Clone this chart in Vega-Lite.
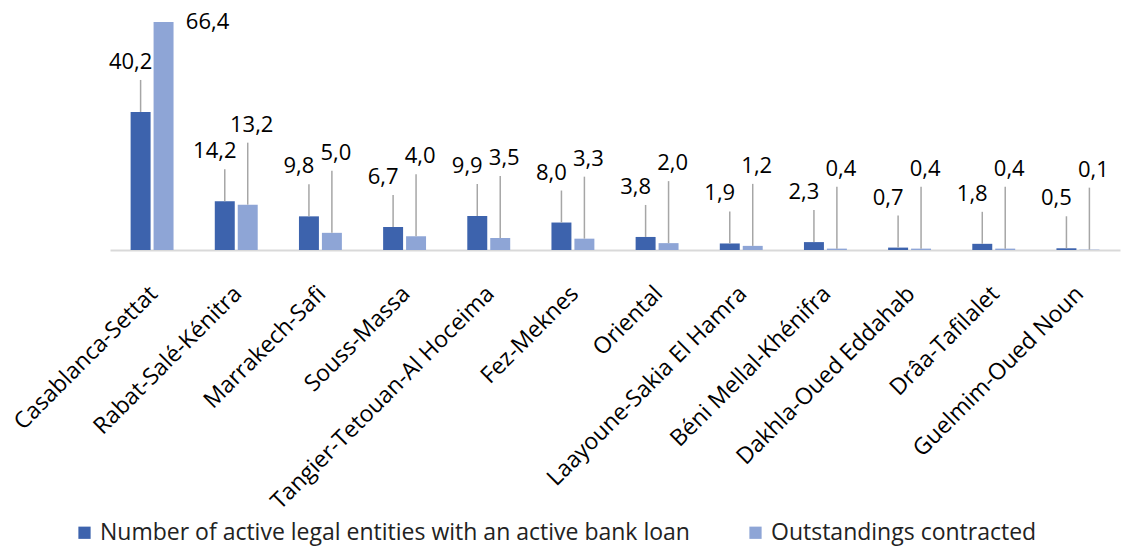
{
  "$schema": "https://vega.github.io/schema/vega-lite/v6.json",
  "autosize": {"type": "none"},
  "padding": {"left": 110, "top": 22, "right": 4, "bottom": 297},
  "width": 1010,
  "height": 228,
  "config": {
    "font": "Open Sans",
    "view": {"stroke": null},
    "locale": {"number": {"decimal": ",", "thousands": ".", "grouping": [3], "currency": ["", " €"]}}
  },
  "data": {
    "values": [
      {"region": "Casablanca-Settat", "series": "Number of active legal entities with an active bank loan", "value": 40.2},
      {"region": "Casablanca-Settat", "series": "Outstandings contracted", "value": 66.4},
      {"region": "Rabat-Salé-Kénitra", "series": "Number of active legal entities with an active bank loan", "value": 14.2},
      {"region": "Rabat-Salé-Kénitra", "series": "Outstandings contracted", "value": 13.2},
      {"region": "Marrakech-Safi", "series": "Number of active legal entities with an active bank loan", "value": 9.8},
      {"region": "Marrakech-Safi", "series": "Outstandings contracted", "value": 5.0},
      {"region": "Souss-Massa", "series": "Number of active legal entities with an active bank loan", "value": 6.7},
      {"region": "Souss-Massa", "series": "Outstandings contracted", "value": 4.0},
      {"region": "Tangier-Tetouan-Al Hoceima", "series": "Number of active legal entities with an active bank loan", "value": 9.9},
      {"region": "Tangier-Tetouan-Al Hoceima", "series": "Outstandings contracted", "value": 3.5},
      {"region": "Fez-Meknes", "series": "Number of active legal entities with an active bank loan", "value": 8.0},
      {"region": "Fez-Meknes", "series": "Outstandings contracted", "value": 3.3},
      {"region": "Oriental", "series": "Number of active legal entities with an active bank loan", "value": 3.8},
      {"region": "Oriental", "series": "Outstandings contracted", "value": 2.0},
      {"region": "Laayoune-Sakia El Hamra", "series": "Number of active legal entities with an active bank loan", "value": 1.9},
      {"region": "Laayoune-Sakia El Hamra", "series": "Outstandings contracted", "value": 1.2},
      {"region": "Béni Mellal-Khénifra", "series": "Number of active legal entities with an active bank loan", "value": 2.3},
      {"region": "Béni Mellal-Khénifra", "series": "Outstandings contracted", "value": 0.4},
      {"region": "Dakhla-Oued Eddahab", "series": "Number of active legal entities with an active bank loan", "value": 0.7},
      {"region": "Dakhla-Oued Eddahab", "series": "Outstandings contracted", "value": 0.4},
      {"region": "Drâa-Tafilalet", "series": "Number of active legal entities with an active bank loan", "value": 1.8},
      {"region": "Drâa-Tafilalet", "series": "Outstandings contracted", "value": 0.4},
      {"region": "Guelmim-Oued Noun", "series": "Number of active legal entities with an active bank loan", "value": 0.5},
      {"region": "Guelmim-Oued Noun", "series": "Outstandings contracted", "value": 0.1}
    ]
  },
  "encoding": {
    "x": {
      "field": "region", "type": "nominal", "sort": null,
      "scale": {"paddingInner": 0.49, "paddingOuter": 0.245},
      "axis": {"title": null, "labelAngle": -45, "labelFontSize": 23, "labelColor": "#000000", "domainColor": "#D9D9D9", "domainWidth": 2, "ticks": false, "labelPadding": 32, "labelOffset": -6, "labelLimit": 400}
    },
    "xOffset": {"field": "series", "type": "nominal", "sort": null, "scale": {"paddingInner": 0.13}},
    "y": {"field": "value", "type": "quantitative", "scale": {"domain": [0, 66.4], "nice": false}, "axis": null}
  },
  "layer": [
    {
      "mark": {"type": "bar"},
      "encoding": {
        "color": {
          "field": "series", "type": "nominal", "sort": null,
          "scale": {"domain": ["Number of active legal entities with an active bank loan", "Outstandings contracted"], "range": ["#3D63AD", "#8EA5D6"]},
          "legend": {"title": null, "orient": "none", "legendX": -37, "legendY": 499, "direction": "horizontal", "symbolType": "square", "symbolSize": 150, "symbolStrokeWidth": 0, "labelFontSize": 23, "labelColor": "#222222", "labelLimit": 800, "columnPadding": 54, "labelOffset": 4}
        }
      }
    },
    {
      "transform": [{"filter": "datum.series == 'Number of active legal entities with an active bank loan'"}],
      "mark": {"type": "rule", "color": "#A6A6A6", "strokeWidth": 1.5, "y2Offset": -32},
      "encoding": {"y2": {"field": "value"}}
    },
    {
      "transform": [{"filter": "datum.series == 'Outstandings contracted' && datum.value < 50"}],
      "mark": {"type": "rule", "color": "#A6A6A6", "strokeWidth": 1.5, "y2Offset": -62},
      "encoding": {"y2": {"field": "value"}}
    },
    {
      "transform": [{"filter": "datum.series == 'Number of active legal entities with an active bank loan'"}],
      "mark": {"type": "text", "fontSize": 22, "color": "#000000", "dy": -50, "dx": -10, "baseline": "middle"},
      "encoding": {"text": {"field": "value", "type": "quantitative", "format": ".1f"}}
    },
    {
      "transform": [{"filter": "datum.series == 'Outstandings contracted'"}],
      "mark": {"type": "text", "fontSize": 22, "color": "#000000", "baseline": "middle",
        "dy": {"expr": "datum.value > 50 ? 0 : -80"},
        "dx": {"expr": "datum.value > 50 ? 44 : 4"}},
      "encoding": {"text": {"field": "value", "type": "quantitative", "format": ".1f"}}
    }
  ]
}
